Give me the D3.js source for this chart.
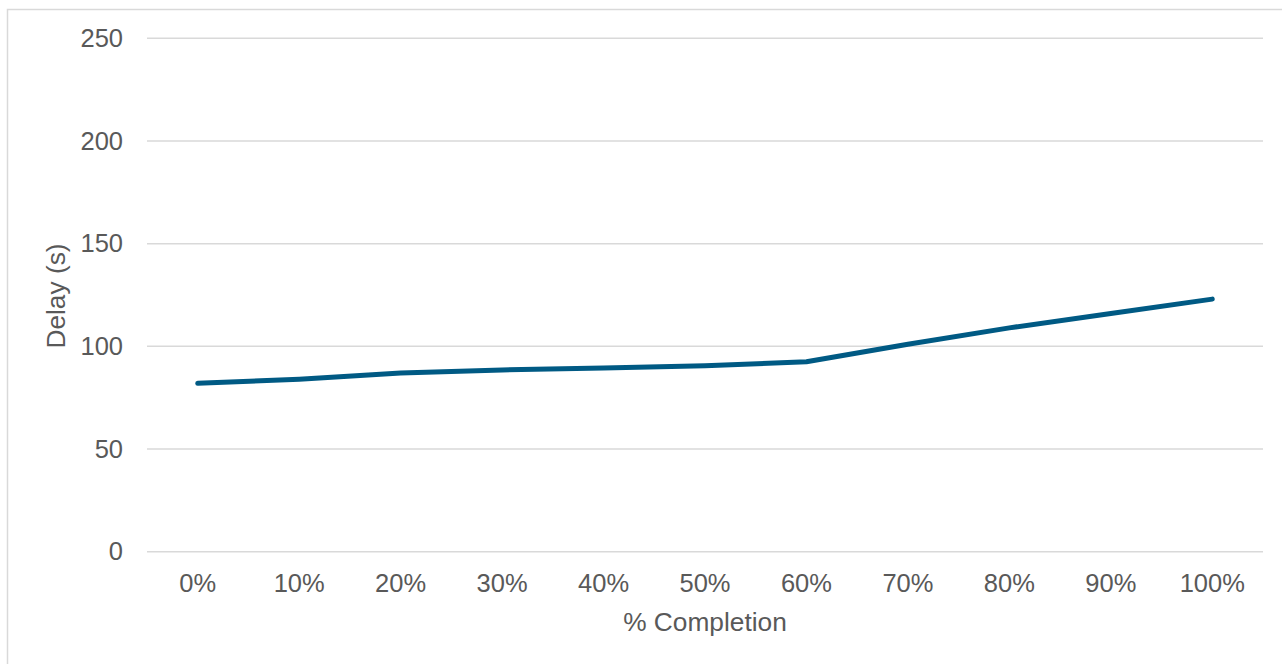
<!DOCTYPE html>
<html>
<head>
<meta charset="utf-8">
<script src="https://cdn.jsdelivr.net/npm/d3@7"></script>
<style>
  html, body { margin: 0; padding: 0; background: #ffffff; }
  svg { display: block; font-family: "Liberation Sans", Arial, sans-serif; }
</style>
</head>
<body>
<svg id="chart" width="1282" height="664"></svg>
<script>
// Delay by completion stage
const categories = ["0%", "10%", "20%", "30%", "40%", "50%", "60%", "70%", "80%", "90%", "100%"];
const delaySeconds = [82, 84, 87, 88.5, 89.5, 90.5, 92.5, 101, 109, 116, 123];
const yTicks = [0, 50, 100, 150, 200, 250];

const svg = d3.select("#chart");
const W = 1282, H = 664;

// chart area frame
svg.append("rect")
  .attr("x", 7.5).attr("y", 9.5)
  .attr("width", W + 20).attr("height", H + 20)
  .attr("fill", "#ffffff")
  .attr("stroke", "#d9d9d9")
  .attr("stroke-width", 1.5);

const plot = { left: 147, right: 1263, top: 38.3, bottom: 551.7 };

const x = d3.scaleBand()
  .domain(categories)
  .range([plot.left, plot.right])
  .padding(0);

const y = d3.scaleLinear()
  .domain([0, 250])
  .range([plot.bottom, plot.top]);

// horizontal gridlines
svg.append("g")
  .selectAll("line")
  .data(yTicks)
  .join("line")
  .attr("x1", plot.left).attr("x2", plot.right)
  .attr("y1", d => y(d)).attr("y2", d => y(d))
  .attr("stroke", "#d9d9d9")
  .attr("stroke-width", 1.5);

const textColor = "#595959";
const tickFont = 25.5;
const titleFont = 26.3;

// y axis labels
const yAxis = d3.axisLeft(y).tickValues(yTicks).tickSize(0).tickPadding(24);
const gy = svg.append("g").attr("transform", `translate(${plot.left},0)`).call(yAxis);
gy.select(".domain").remove();
gy.selectAll("text")
  .attr("fill", textColor)
  .attr("font-size", tickFont)
  .attr("font-family", "Liberation Sans, Arial, sans-serif");

// x axis labels
const xAxis = d3.axisBottom(x).tickSize(0).tickPadding(22);
const gx = svg.append("g").attr("transform", `translate(0,${plot.bottom})`).call(xAxis);
gx.select(".domain").remove();
gx.selectAll("text")
  .attr("fill", textColor)
  .attr("font-size", tickFont)
  .attr("font-family", "Liberation Sans, Arial, sans-serif");

// axis titles
svg.append("text")
  .attr("x", (plot.left + plot.right) / 2)
  .attr("y", 631)
  .attr("text-anchor", "middle")
  .attr("fill", textColor)
  .attr("font-size", titleFont)
  .text("% Completion");

svg.append("text")
  .attr("transform", "translate(65,296) rotate(-90)")
  .attr("text-anchor", "middle")
  .attr("fill", textColor)
  .attr("font-size", titleFont)
  .text("Delay (s)");

// series line
const line = d3.line()
  .x((d, i) => x(categories[i]) + x.bandwidth() / 2)
  .y(d => y(d));

svg.append("path")
  .datum(delaySeconds)
  .attr("d", line)
  .attr("fill", "none")
  .attr("stroke", "#005a84")
  .attr("stroke-width", 5)
  .attr("stroke-linecap", "round")
  .attr("stroke-linejoin", "round");
</script>
</body>
</html>
